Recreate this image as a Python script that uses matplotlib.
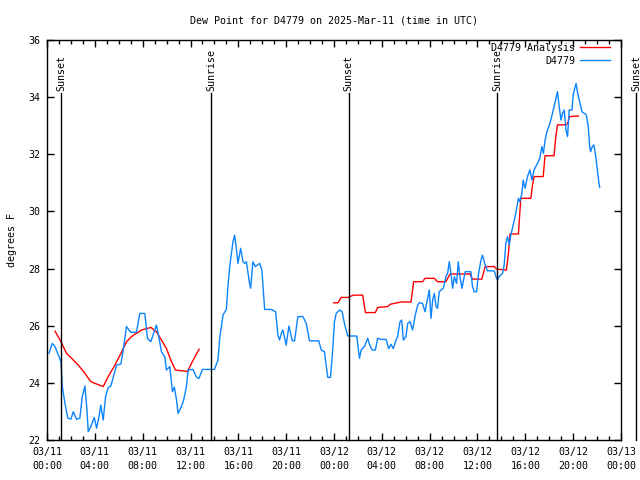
import numpy as np
import matplotlib
matplotlib.use("Agg")
import matplotlib.pyplot as plt

# hours since 03/11 00:00 UTC
obs_hours = [
    0.17, 0.44, 0.67, 0.95, 1.17, 1.28, 1.5, 1.73, 2.0, 2.2, 2.48, 2.75, 2.95, 3.17,
    3.34, 3.45, 3.67, 3.95, 4.15, 4.37, 4.5, 4.7, 4.9, 5.12, 5.34, 5.54, 5.82, 6.18,
    6.37, 6.65, 7.0, 7.48, 7.76, 8.18, 8.4, 8.68, 8.87, 9.15, 9.35, 9.57, 9.85, 9.99,
    10.27, 10.49, 10.65, 10.83, 10.96, 11.24, 11.43, 11.66, 11.8, 12.2, 12.5, 12.7,
    13.0, 14.0, 14.3, 14.44, 14.72, 15.0, 15.13, 15.28, 15.55, 15.69, 15.83, 15.97,
    16.19, 16.39, 16.53, 16.67, 16.94, 17.03, 17.22, 17.42, 17.78, 17.97, 18.2, 18.75,
    19.12, 19.31, 19.45, 19.64, 19.73, 20.0, 20.23, 20.51, 20.7, 20.98, 21.4, 21.68,
    21.95, 22.73, 22.93, 23.2, 23.35, 23.48, 23.7, 23.85, 24.04, 24.18, 24.46, 24.68,
    24.87, 25.15, 25.9, 26.13, 26.27, 26.54, 26.82, 26.96, 27.19, 27.46, 27.65, 27.94,
    28.36, 28.57, 28.77, 28.96, 29.19, 29.32, 29.52, 29.66, 29.8, 30.02, 30.16, 30.36,
    30.57, 30.8, 31.0, 31.14, 31.41, 31.61, 31.83, 31.97, 32.11, 32.25, 32.39, 32.53,
    32.66, 32.8, 32.95, 33.14, 33.36, 33.5, 33.64, 33.78, 33.92, 34.06, 34.25, 34.39,
    34.53, 34.7, 34.89, 34.97, 35.45, 35.58, 35.73, 35.92, 36.09, 36.29, 36.42, 36.64,
    36.84, 37.4, 37.59, 37.67, 37.81, 38.09, 38.23, 38.37, 38.51, 38.65, 38.79, 38.98,
    39.2, 39.42, 39.54, 39.71, 39.82, 39.98, 40.18, 40.38, 40.55, 40.73, 41.01, 41.21,
    41.38, 41.51, 41.65, 41.85, 42.05, 42.27, 42.5, 42.69, 42.83, 42.98, 43.11, 43.25,
    43.4, 43.53, 43.67, 43.9, 44.0, 44.24, 44.38, 44.58, 44.74, 45.1, 45.26, 45.38,
    45.46, 45.6, 45.73, 45.89, 46.02, 46.16, 46.22,
]
obs_dewpt = [
    25.04, 25.38, 25.27, 24.97, 24.74, 23.87, 23.29, 22.77, 22.73, 22.99, 22.72, 22.77,
    23.52, 23.89, 23.05, 22.29, 22.47, 22.79, 22.41, 22.87, 23.22, 22.70, 23.52, 23.84,
    23.89, 24.19, 24.62, 24.66, 25.15, 25.97, 25.77, 25.77, 26.43, 26.43, 25.56, 25.44,
    25.67, 26.02, 25.62, 25.09, 24.91, 24.45, 24.57, 23.69, 23.85, 23.4, 22.93, 23.17,
    23.4, 23.87, 24.45, 24.47, 24.2, 24.15, 24.47, 24.47, 24.8, 25.56, 26.38, 26.57,
    27.37, 28.07, 28.94, 29.17, 28.71, 28.18, 28.71, 28.24, 28.18, 28.24, 27.48, 27.31,
    28.24, 28.07, 28.18, 27.95, 26.57, 26.57, 26.49, 25.67, 25.5, 25.79, 25.85, 25.32,
    25.99, 25.47, 25.47, 26.32, 26.32, 26.08, 25.47, 25.47, 25.15, 25.09, 24.62, 24.19,
    24.19, 24.91, 26.14, 26.43, 26.55, 26.49, 26.08, 25.64, 25.64, 24.86, 25.15, 25.27,
    25.56, 25.36, 25.15, 25.15, 25.56, 25.52, 25.52, 25.2, 25.35, 25.2, 25.5, 25.62,
    26.14, 26.2, 25.5, 25.62, 26.08, 26.14, 25.85, 26.38, 26.72, 26.81, 26.78, 26.49,
    26.96, 27.25, 26.26, 26.9, 27.13, 26.67, 26.61, 27.19, 27.25, 27.31, 27.72, 27.83,
    28.24, 27.83, 27.31, 27.72, 27.48, 28.24, 27.72, 27.31, 27.72, 27.89, 27.89, 27.37,
    27.19, 27.19, 27.83, 28.3, 28.47, 28.13, 27.92, 27.92, 27.66, 27.6, 27.72, 27.83,
    28.13, 28.88, 29.12, 28.83, 29.17, 29.52, 29.93, 30.46, 30.34, 30.63, 31.1, 30.81,
    31.22, 31.45, 31.1, 31.45, 31.68, 31.86, 32.27, 32.03, 32.5, 32.85, 33.08, 33.43,
    33.84, 34.19, 33.67, 33.2, 33.43, 33.55, 32.85, 32.62, 33.55, 33.55, 34.08, 34.48,
    34.13, 33.78, 33.49, 33.38, 32.97, 32.27, 32.09, 32.27, 32.33, 31.92, 31.45, 30.98,
    30.84,
]

# analysis series (nan = gap)
ana_hours = [
    0.67, 1.09, 1.64, 2.06, 2.62, 3.17, 3.67, 4.15, 4.7, 5.12, 5.68, 6.18, 6.65, 7.07,
    7.9, 8.68, 9.15, 9.57, 9.99, 10.35, 10.74, 11.1, 11.58, 11.74, 12.08, 12.41, 12.72,
    18.0,
    23.98, 24.32, 24.6, 25.15, 25.63, 26.4, 26.63, 27.46, 27.65, 28.5, 28.69, 29.6,
    30.44, 30.66, 31.41, 31.61, 32.39, 32.66, 33.36, 33.7, 35.37, 35.58, 36.36, 36.64,
    37.4, 37.59, 38.42, 38.6, 38.72, 39.42, 39.62, 40.46, 40.6, 40.73, 41.49, 41.65,
    42.4, 42.55, 42.69, 43.44, 43.59, 43.67, 44.45,
]
ana_dewpt = [
    25.81, 25.5, 25.03, 24.86, 24.62, 24.33, 24.04, 23.96, 23.87, 24.22, 24.62, 25.03,
    25.44, 25.62, 25.85, 25.94, 25.79, 25.5, 25.2, 24.8, 24.45, 24.43, 24.41, 24.39,
    24.68, 24.94, 25.18,
    np.nan,
    26.8, 26.8, 26.99, 26.99, 27.07, 27.07, 26.46, 26.46, 26.64, 26.67, 26.75, 26.83,
    26.83, 27.54, 27.54, 27.66, 27.66, 27.54, 27.54, 27.81, 27.81, 27.63, 27.63, 28.07,
    28.07, 27.98, 27.95, 28.59, 29.21, 29.21, 30.46, 30.46, 30.92, 31.22, 31.22, 31.95,
    31.95, 32.62, 33.03, 33.03, 33.14, 33.32, 33.34,
]

sun_hours = [1.2, 13.72, 25.22, 37.67, 49.25]
sun_labels = ["Sunset", "Sunrise", "Sunset", "Sunrise", "Sunset"]

xtick_hours = list(range(0, 49, 4))
xtick_labels = ["03/11\n00:00", "03/11\n04:00", "03/11\n08:00", "03/11\n12:00",
                "03/11\n16:00", "03/11\n20:00", "03/12\n00:00", "03/12\n04:00",
                "03/12\n08:00", "03/12\n12:00", "03/12\n16:00", "03/12\n20:00",
                "03/13\n00:00"]
yticks = [22, 24, 26, 28, 30, 32, 34, 36]

FS = 7.2
plt.rcParams["font.family"] = ["DejaVu Sans Mono"]

fig = plt.figure(figsize=(6.4, 4.8), dpi=100)
ax = fig.add_axes([47 / 640, 40 / 480, 574 / 640, 400 / 480])

ax.plot(ana_hours, ana_dewpt, color="#ff0000", lw=1.0, label="D4779 Analysis")
ax.plot(obs_hours, obs_dewpt, color="#0a84ff", lw=1.0, label="D4779")

# sunrise / sunset markers
for h, lab in zip(sun_hours, sun_labels):
    ax.plot([h, h], [22, 34.15], color="black", lw=1.0, clip_on=False)
    ax.text(h, 34.22, lab, rotation=90, ha="center", va="bottom",
            fontsize=FS, clip_on=False)

ax.set_xlim(0, 48)
ax.set_ylim(22, 36)
ax.set_xticks(xtick_hours)
ax.set_xticklabels(xtick_labels, fontsize=FS, linespacing=1.5)
ax.set_xticks(range(0, 49), minor=True)
ax.set_yticks(yticks)
ax.set_yticklabels([str(v) for v in yticks], fontsize=FS)
ax.tick_params(which="both", direction="in", top=True, right=True, width=1)
ax.tick_params(which="major", length=5, pad=5)
ax.tick_params(which="minor", length=3)
for s in ax.spines.values():
    s.set_linewidth(1.0)

ax.set_ylabel("degrees F", fontsize=FS, labelpad=8)
ax.set_title("Dew Point for D4779 on 2025-Mar-11 (time in UTC)", fontsize=FS, pad=12)

ax.legend(loc="upper right", bbox_to_anchor=(0.981, 0.9925), frameon=False,
          markerfirst=False, fontsize=FS, handlelength=3.0, handletextpad=0.5,
          borderpad=0, borderaxespad=0, labelspacing=0.3)

fig.savefig("out.png", dpi=100)
